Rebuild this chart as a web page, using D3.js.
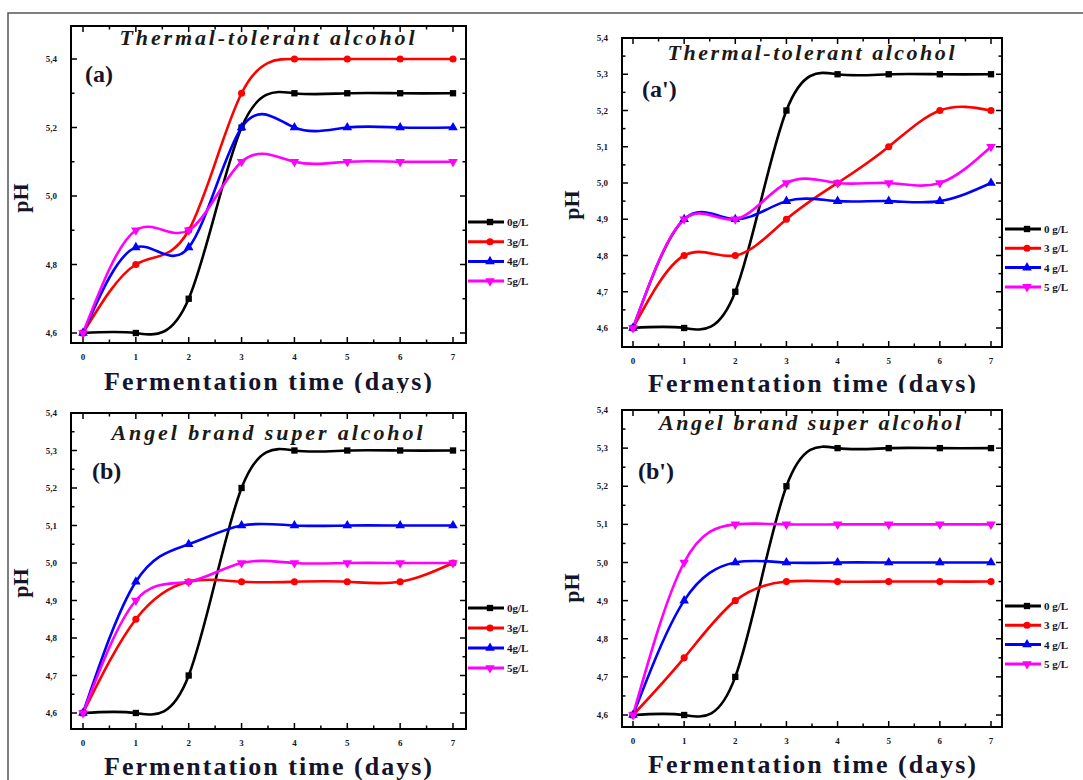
<!DOCTYPE html>
<html>
<head>
    <script src="https://d3js.org/d3.v7.min.js"></script>
    <style>
        body { margin: 0; background: #fff; }
        svg text { font-family: "Liberation Serif", "DejaVu Serif", serif; font-weight: bold; fill: #14142a; }
        .frame { fill: none; stroke: #000; stroke-width: 2; }
        .tick-label { font-size: 9px; }
        .title { font-style: italic; font-size: 22px; }
        .axis-title { font-size: 26px; }
        .tag { font-size: 24px; }
        .legend-label { font-size: 11px; }
    </style>
</head>
<body>
    <svg width="1083" height="780"></svg>
    <script>
        // pH values at day 0..7, rows: 0, 3, 4, 5 g/L
        const days = [0, 1, 2, 3, 4, 5, 6, 7];
        const colors = ['#000000', '#ff0000', '#0000ff', '#ff00ff'];
        const symbols = [d3.symbolSquare, d3.symbolCircle, d3.symbolTriangle, 'down'];

        const thermalA = [
            [4.6, 4.6, 4.7, 5.2, 5.3, 5.3, 5.3, 5.3],
            [4.6, 4.8, 4.9, 5.3, 5.4, 5.4, 5.4, 5.4],
            [4.6, 4.85, 4.85, 5.2, 5.2, 5.2, 5.2, 5.2],
            [4.6, 4.9, 4.9, 5.1, 5.1, 5.1, 5.1, 5.1]
        ];
        const thermalA2 = [
            [4.6, 4.6, 4.7, 5.2, 5.3, 5.3, 5.3, 5.3],
            [4.6, 4.8, 4.8, 4.9, 5.0, 5.1, 5.2, 5.2],
            [4.6, 4.9, 4.9, 4.95, 4.95, 4.95, 4.95, 5.0],
            [4.6, 4.9, 4.9, 5.0, 5.0, 5.0, 5.0, 5.1]
        ];
        const angelB = [
            [4.6, 4.6, 4.7, 5.2, 5.3, 5.3, 5.3, 5.3],
            [4.6, 4.85, 4.95, 4.95, 4.95, 4.95, 4.95, 5.0],
            [4.6, 4.95, 5.05, 5.1, 5.1, 5.1, 5.1, 5.1],
            [4.6, 4.9, 4.95, 5.0, 5.0, 5.0, 5.0, 5.0]
        ];
        const angelB2 = [
            [4.6, 4.6, 4.7, 5.2, 5.3, 5.3, 5.3, 5.3],
            [4.6, 4.75, 4.9, 4.95, 4.95, 4.95, 4.95, 4.95],
            [4.6, 4.9, 5.0, 5.0, 5.0, 5.0, 5.0, 5.0],
            [4.6, 5.0, 5.1, 5.1, 5.1, 5.1, 5.1, 5.1]
        ];

        const namesA = ['0g/L', '3g/L', '4g/L', '5g/L'];
        const namesB = ['0 g/L', '3 g/L', '4 g/L', '5 g/L'];
        const yLabelsA = [4.6, 4.8, 5.0, 5.2, 5.4];
        const yLabelsB = [4.6, 4.7, 4.8, 4.9, 5.0, 5.1, 5.2, 5.3, 5.4];

        const panels = [
            { data: thermalA, names: namesA, title: 'Thermal-tolerant alcohol', tag: '(a)',
              box: [71, 26, 466, 343], xr: [83, 453], yr: [333, 59], yLabels: yLabelsA, minor: 0.1,
              titleX: 267, titleY: 45, titleW: 295, tagX: 85, tagY: 82,
              legX: 468, legY: 222, legDy: 19.7, xlabY: 390, phY: 198 },
            { data: thermalA2, names: namesB, title: 'Thermal-tolerant alcohol', tag: "(a')",
              box: [622, 38, 1002, 347], xr: [633, 991], yr: [328, 38], yLabels: yLabelsB, minor: 0.05,
              titleX: 811, titleY: 60, titleW: 287, tagX: 642, tagY: 97,
              legX: 1005, legY: 229, legDy: 19.3, xlabY: 392, phY: 205 },
            { data: angelB, names: namesA, title: 'Angel brand super alcohol', tag: '(b)',
              box: [71, 413, 466, 729], xr: [83, 453], yr: [713, 413], yLabels: yLabelsB, minor: 0.05,
              titleX: 267, titleY: 440, titleW: 311, tagX: 92, tagY: 479,
              legX: 468, legY: 608, legDy: 20, xlabY: 775, phY: 583 },
            { data: angelB2, names: namesB, title: 'Angel brand super alcohol', tag: "(b')",
              box: [622, 410, 1002, 727], xr: [633, 991], yr: [715, 410], yLabels: yLabelsB, minor: 0.05,
              titleX: 810, titleY: 430, titleW: 302, tagX: 638, tagY: 479,
              legX: 1005, legY: 606, legDy: 19.3, xlabY: 773, phY: 588 }
        ];

        const svg = d3.select('svg');

        const fmt = v => d3.format('.1f')(v).replace('.', ',');

        panels.forEach((p, pi) => {
            const g = svg.append('g');
            const [bx0, by0, bx1, by1] = p.box;

            // lower panels sit on top of the upper ones and clip their axis titles
            if (pi === 2) {
                svg.append('rect').attr('x', 9).attr('y', 393)
                    .attr('width', 1074).attr('height', 387).attr('fill', '#fff');
                g.raise();
            }

            const x = d3.scaleLinear().domain([0, 7]).range(p.xr);
            const y = d3.scaleLinear().domain([4.6, 5.4]).range(p.yr);

            // y ticks, inward on both sides
            const yMinor = d3.range(4.6, 5.4001, p.minor).filter(v => y(v) >= by0 - 0.5 && y(v) <= by1);
            yMinor.forEach(v => {
                const isMajor = p.yLabels.some(l => Math.abs(l - v) < 1e-6);
                const len = isMajor ? 6 : 3.5;
                g.append('line').attr('x1', bx0).attr('x2', bx0 + len)
                    .attr('y1', y(v)).attr('y2', y(v)).attr('stroke', '#000').attr('stroke-width', 1.5);
                g.append('line').attr('x1', bx1).attr('x2', bx1 - len)
                    .attr('y1', y(v)).attr('y2', y(v)).attr('stroke', '#000').attr('stroke-width', 1.5);
            });
            g.selectAll('.ylab')
                .data(p.yLabels)
                .enter()
                .append('text')
                .attr('class', 'tick-label')
                .attr('x', bx0 - 14)
                .attr('y', d => y(d) + 3)
                .attr('text-anchor', 'end')
                .text(fmt);

            // x ticks
            d3.range(0, 7.01, 0.5).forEach(v => {
                const len = Number.isInteger(v) ? 6 : 3.5;
                g.append('line').attr('x1', x(v)).attr('x2', x(v))
                    .attr('y1', by1).attr('y2', by1 - len).attr('stroke', '#000').attr('stroke-width', 1.5);
                g.append('line').attr('x1', x(v)).attr('x2', x(v))
                    .attr('y1', by0).attr('y2', by0 + len).attr('stroke', '#000').attr('stroke-width', 1.5);
            });
            g.selectAll('.xlab')
                .data(days)
                .enter()
                .append('text')
                .attr('class', 'tick-label')
                .attr('x', d => x(d))
                .attr('y', by1 + 17)
                .attr('text-anchor', 'middle')
                .text(d => d);

            // curves
            const line = d3.line()
                .x((d, i) => x(days[i]))
                .y(d => y(d))
                .curve(d3.curveNatural);

            p.data.forEach((vals, si) => {
                g.append('path')
                    .attr('d', line(vals))
                    .attr('fill', 'none')
                    .attr('stroke', colors[si])
                    .attr('stroke-width', 2.6);
            });
            p.data.forEach((vals, si) => {
                const sym = symbols[si] === 'down' ? d3.symbolTriangle : symbols[si];
                const rot = symbols[si] === 'down' ? 180 : 0;
                g.selectAll(null)
                    .data(vals)
                    .enter()
                    .append('path')
                    .attr('d', d3.symbol().type(sym).size(40))
                    .attr('transform', (d, i) => `translate(${x(days[i])},${y(d)}) rotate(${rot})`)
                    .attr('fill', colors[si]);
            });

            // frame
            g.append('rect')
                .attr('class', 'frame')
                .attr('x', bx0).attr('y', by0)
                .attr('width', bx1 - bx0).attr('height', by1 - by0);

            // titles
            g.append('text')
                .attr('class', 'title')
                .attr('x', p.titleX - p.titleW / 2)
                .attr('y', p.titleY)
                .attr('textLength', p.titleW)
                .attr('lengthAdjust', 'spacing')
                .style('fill', '#1c1a14')
                .text(p.title);

            g.append('text')
                .attr('class', 'tag')
                .attr('x', p.tagX)
                .attr('y', p.tagY)
                .text(p.tag);

            g.append('text')
                .attr('class', 'axis-title')
                .attr('x', (p.xr[0] + p.xr[1]) / 2 - 164)
                .attr('y', p.xlabY)
                .attr('textLength', 328)
                .attr('lengthAdjust', 'spacing')
                .text('Fermentation time (days)');

            g.append('text')
                .attr('class', 'axis-title')
                .style('font-size', '22px')
                .attr('transform', `translate(${bx0 - 43},${p.phY}) rotate(-90)`)
                .attr('text-anchor', 'middle')
                .text('pH');

            // legend
            const leg = g.append('g');
            p.names.forEach((name, si) => {
                const ly = p.legY + si * p.legDy;
                const sym = symbols[si] === 'down' ? d3.symbolTriangle : symbols[si];
                const rot = symbols[si] === 'down' ? 180 : 0;
                leg.append('line')
                    .attr('x1', p.legX).attr('x2', p.legX + 36)
                    .attr('y1', ly).attr('y2', ly)
                    .attr('stroke', colors[si]).attr('stroke-width', 3);
                leg.append('path')
                    .attr('d', d3.symbol().type(sym).size(40))
                    .attr('transform', `translate(${p.legX + 22},${ly}) rotate(${rot})`)
                    .attr('fill', colors[si]);
                leg.append('text')
                    .attr('class', 'legend-label')
                    .attr('x', p.legX + 39)
                    .attr('y', ly + 4)
                    .text(name);
            });
        });

        // outer figure border
        svg.append('path')
            .attr('d', 'M8,780 L8,13 L1083,13')
            .attr('fill', 'none')
            .attr('stroke', '#555')
            .attr('stroke-width', 1.5);
    </script>
</body>
</html>
